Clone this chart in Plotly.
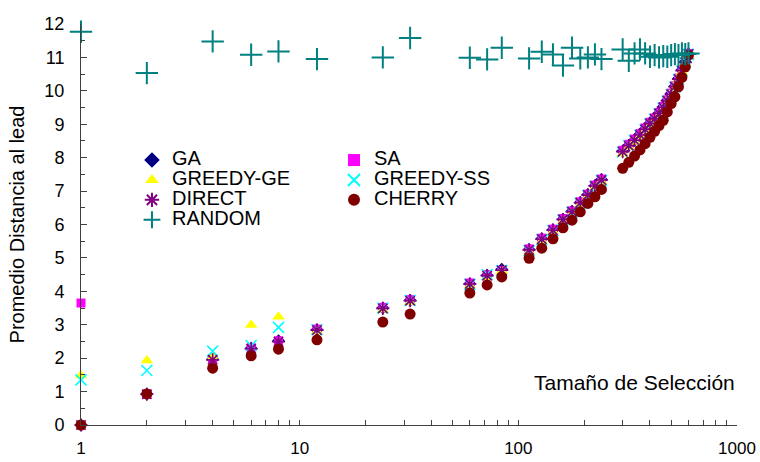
import plotly.graph_objects as go

# ---- data ----
sizes = [1, 2, 4, 6, 8, 12, 24, 32, 60, 72, 84, 112, 128, 144, 160, 176, 192, 208, 224, 240,
         300, 320, 340, 360, 380, 400, 420, 440, 460, 480, 500, 520, 540, 560, 580, 600]

ga = [0, 0.93, 1.97, 2.30, 2.52, 2.85, 3.50, 3.73, 4.23, 4.48, 4.66, 5.25, 5.57, 5.84, 6.16, 6.40,
      6.66, 6.90, 7.16, 7.35, 8.20, 8.37, 8.53, 8.70, 8.86, 9.03, 9.18, 9.33, 9.52, 9.72, 9.92,
      10.14, 10.37, 10.62, 10.87, 11.10]
sa = [3.65, 0.93, 1.98, 2.31, 2.52, 2.87, 3.52, 3.75, 4.25, 4.50, 4.62, 5.27, 5.59, 5.86, 6.18, 6.41,
      6.68, 6.91, 7.18, 7.36, 8.22, 8.40, 8.56, 8.72, 8.89, 9.06, 9.19, 9.35, 9.53, 9.73, 9.93,
      10.15, 10.38, 10.63, 10.88, 11.12]
greedy_ge = [1.48, 1.93, 2.02, 2.99, 3.24, 2.80, 3.45, 3.67, 4.17, 4.42, 4.60, 5.18, 5.50, 5.78, 6.10,
             6.33, 6.60, 6.83, 7.10, 7.28, 8.12, 8.31, 8.47, 8.63, 8.80, 8.97, 9.11, 9.27, 9.45, 9.65,
             9.86, 10.08, 10.31, 10.56, 10.82, 11.08]
greedy_ss = [1.35, 1.63, 2.21, 2.38, 2.92, 2.85, 3.50, 3.73, 4.21, 4.50, 4.62, 5.22, 5.55, 5.82, 6.14,
             6.37, 6.64, 6.87, 7.14, 7.32, 8.17, 8.36, 8.52, 8.67, 8.84, 9.01, 9.15, 9.31, 9.49, 9.69,
             9.89, 10.11, 10.34, 10.59, 10.84, 11.09]
direct = [0, 0.92, 1.95, 2.28, 2.49, 2.84, 3.49, 3.72, 4.22, 4.47, 4.63, 5.24, 5.56, 5.83, 6.15, 6.38,
          6.65, 6.88, 7.15, 7.33, 8.18, 8.36, 8.52, 8.68, 8.85, 9.02, 9.16, 9.32, 9.50, 9.70, 9.90,
          10.12, 10.35, 10.60, 10.85, 11.10]
cherry = [0, 0.93, 1.70, 2.07, 2.27, 2.55, 3.08, 3.32, 3.95, 4.19, 4.43, 4.99, 5.29, 5.57, 5.90, 6.13,
          6.38, 6.63, 6.83, 7.05, 7.68, 7.86, 8.05, 8.23, 8.42, 8.61, 8.79, 8.96, 9.12, 9.37, 9.62,
          9.82, 10.12, 10.40, 10.72, 11.07]
random_ = [11.77, 10.53, 11.48, 11.08, 11.18, 10.95, 11.00, 11.58, 10.99, 10.94, 11.29, 10.97, 11.17,
           11.09, 10.76, 11.29, 10.97, 11.00, 11.09, 10.95, 11.24, 10.90, 11.12, 11.24, 11.12, 11.02,
           11.07, 11.00, 11.04, 11.02, 11.07, 11.10, 11.07, 11.12, 11.10, 11.12]

x_tickvals = [1, 10, 100, 1000]
x_ticktext = ["1", "10", "100", "1000"]
x_minor = [m * d for d in (1, 10, 100) for m in range(2, 10)]

FONT = "Liberation Sans, Arial, sans-serif"

series = [
    ("GA", ga, dict(symbol="diamond", size=10, color="#000080"), "legend"),
    ("SA", sa, dict(symbol="square", size=9, color="#FF00FF"), "legend2"),
    ("GREEDY-GE", greedy_ge, dict(symbol="triangle-up", size=11, color="#FFFF00"), "legend"),
    ("GREEDY-SS", greedy_ss, dict(symbol="x-thin-open", size=11, color="#00FFFF",
                                  line=dict(color="#00FFFF", width=1.6)), "legend2"),
    ("DIRECT", direct, dict(symbol="asterisk-open", size=11, color="#800080",
                            line=dict(color="#800080", width=1.6)), "legend"),
    ("CHERRY", cherry, dict(symbol="circle", size=11, color="#800000"), "legend2"),
    ("RANDOM", random_, dict(symbol="cross-thin-open", size=16, color="#008080",
                             line=dict(color="#008080", width=2)), "legend"),
]

fig = go.Figure()
for name, vals, marker, leg in series:
    fig.add_trace(go.Scatter(
        x=sizes, y=vals, mode="markers", name=f'<span style="font-size:20px">{name}</span>',
        marker=marker, cliponaxis=False, legend=leg,
    ))

axis_col = "#404040"
fig.update_layout(
    width=760, height=462,
    margin=dict(l=81, r=23, t=24, b=37, autoexpand=False),
    paper_bgcolor="white", plot_bgcolor="white",
    font=dict(family=FONT, size=18, color="black"),
    showlegend=True,
    legend=dict(x=0.0777, y=0.698, xanchor="left", yanchor="top",
                font=dict(family=FONT, size=13), bgcolor="rgba(0,0,0,0)",
                tracegroupgap=0, itemsizing="constant"),
    legend2=dict(x=0.3857, y=0.698, xanchor="left", yanchor="top",
                 font=dict(family=FONT, size=13), bgcolor="rgba(0,0,0,0)",
                 tracegroupgap=0, itemsizing="constant"),
    xaxis=dict(type="log", range=[0, 3], showgrid=False, zeroline=False, automargin=False,
               showline=True, linecolor=axis_col, linewidth=1,
               tickvals=x_tickvals, ticktext=x_ticktext,
               ticks="inside", ticklen=5, tickcolor=axis_col,
               ticklabelstandoff=8,
               tickfont=dict(family=FONT, size=17),
               minor=dict(tickvals=x_minor, ticks="inside", ticklen=5, tickcolor=axis_col)),
    xaxis2=dict(type="log", range=[0, 3], overlaying="x", anchor="y", side="bottom",
                showgrid=False, zeroline=False, showline=False, automargin=False,
                tickvals=x_tickvals, showticklabels=False,
                ticks="outside", ticklen=7, tickcolor=axis_col),
    yaxis=dict(range=[0, 12], showgrid=False, zeroline=False, automargin=False,
               showline=True, linecolor=axis_col, linewidth=1,
               dtick=1, tick0=0, ticks="inside", ticklen=6, tickcolor=axis_col,
               ticklabelstandoff=12,
               tickfont=dict(family=FONT, size=18),
               minor=dict(dtick=0.5, ticks="inside", ticklen=4, tickcolor=axis_col),
               title=dict(text="Promedio Distancia al lead",
                          font=dict(family=FONT, size=20), standoff=14)),
    yaxis2=dict(range=[0, 12], overlaying="y", anchor="x", side="left",
                showgrid=False, zeroline=False, showline=False, automargin=False,
                dtick=1, tick0=0, showticklabels=False,
                ticks="outside", ticklen=3, tickcolor=axis_col),
    annotations=[dict(text="Tamaño de Selección", xref="paper", yref="paper",
                      x=1.0, y=0.105, xanchor="right", yanchor="middle", showarrow=False,
                      font=dict(family=FONT, size=21, color="black"))],
)

fig.write_html("out.html")
